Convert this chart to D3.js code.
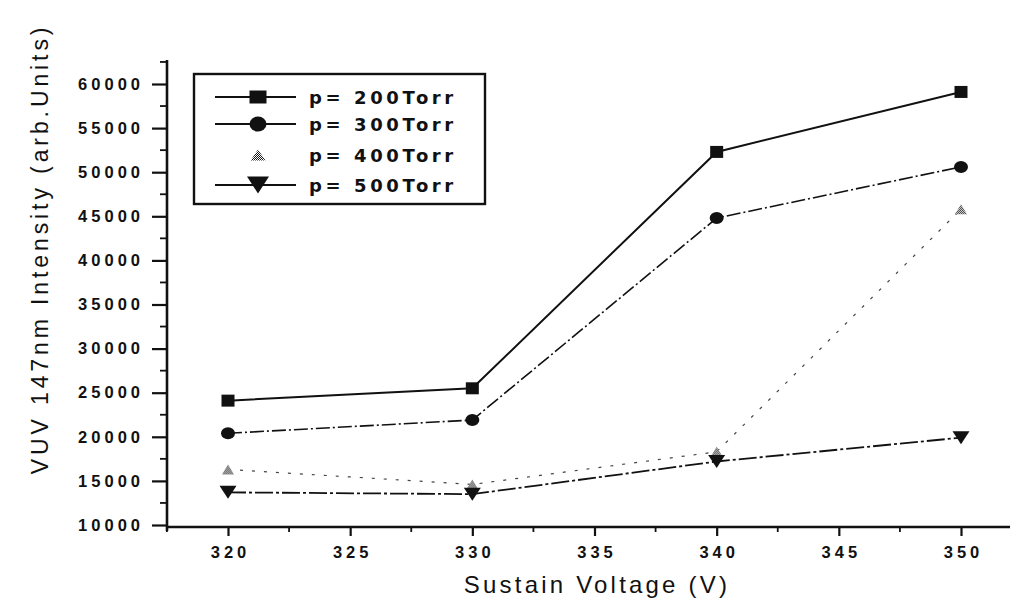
<!DOCTYPE html>
<html>
<head>
<meta charset="utf-8">
<script src="https://cdn.jsdelivr.net/npm/d3@7"></script>
<style>
  html, body { margin: 0; padding: 0; background: #fff; }
  svg { display: block; }
  text { font-family: "Liberation Sans", Arial, sans-serif; fill: #111; }
</style>
</head>
<body>
<svg id="chart" width="1020" height="600"></svg>
<script>
// Sustain voltage (V) on the x axis
const voltages = [320, 330, 340, 350];

// VUV 147 nm intensity for each gas pressure
const p200 = [24100, 25500, 52300, 59100];
const p300 = [20400, 21900, 44800, 50600];
const p400 = [16300, 14600, 18300, 45800];
const p500 = [13700, 13500, 17200, 19900];

const seriesNames = ["p= 200Torr", "p= 300Torr", "p= 400Torr", "p= 500Torr"];

const xTicks = [320, 325, 330, 335, 340, 345, 350];
const yTicks = [10000, 15000, 20000, 25000, 30000, 35000, 40000, 45000, 50000, 55000, 60000];

const svg = d3.select("#chart");

const x = d3.scaleLinear().domain([320, 350]).range([228, 961]);
const y = d3.scaleLinear().domain([10000, 60000]).range([525, 84]);

// checkered fill for the 400 Torr triangles
const defs = svg.append("defs");
const pat = defs.append("pattern").attr("id", "checker")
  .attr("width", 2).attr("height", 2).attr("patternUnits", "userSpaceOnUse");
pat.append("rect").attr("width", 2).attr("height", 2).attr("fill", "#fff");
pat.append("rect").attr("width", 1).attr("height", 1).attr("fill", "#1a1a1a");
pat.append("rect").attr("x", 1).attr("y", 1).attr("width", 1).attr("height", 1).attr("fill", "#1a1a1a");

// marker outlines of a given width and height, centred on the point
function markerPath(shape, w, h) {
  const p = d3.path();
  const hw = w / 2, hh = h / 2;
  if (shape === "square") {
    p.rect(-hw, -hh, w, h);
  } else if (shape === "triUp") {
    p.moveTo(0, -hh); p.lineTo(hw, hh); p.lineTo(-hw, hh); p.closePath();
  } else if (shape === "triDown") {
    p.moveTo(-hw, -hh); p.lineTo(hw, -hh); p.lineTo(0, hh); p.closePath();
  } else {
    return `M${-hw},0A${hw},${hh} 0 1,0 ${hw},0A${hw},${hh} 0 1,0 ${-hw},0Z`;
  }
  return p.toString();
}

const styles = [
  { dash: null, width: 2, color: "#111", shape: "square", mw: 13, mh: 12, lw: 17, lh: 13, fill: "#111" },
  { dash: "14,3,2,3", width: 1.6, color: "#111", shape: "ellipse", mw: 14, mh: 12, lw: 17, lh: 15, fill: "#111" },
  { dash: "3,9", width: 1.2, color: "#444", shape: "triUp", mw: 12, mh: 10, lw: 15, lh: 11, fill: "url(#checker)" },
  { dash: "18,3,3,3", width: 1.8, color: "#111", shape: "triDown", mw: 17, mh: 13, lw: 22, lh: 17, fill: "#111" }
];
const allSeries = [p200, p300, p400, p500];

// x axis
const xMinor = d3.range(317.5, 352, 2.5).filter(v => !xTicks.includes(v));
const xAxis = d3.axisBottom(x).tickValues(xTicks).tickSize(9).tickPadding(10).tickFormat(d3.format("d"));
const gx = svg.append("g").attr("transform", "translate(0,527)").call(xAxis);
gx.select(".domain").remove();
gx.append("line").attr("x1", 166).attr("x2", 1010).attr("stroke", "#111").attr("stroke-width", 2.6);
gx.selectAll(".tick line").attr("stroke", "#111").attr("stroke-width", 2.2);
gx.selectAll(".tick text").attr("font-size", 16.5).attr("font-weight", "bold")
  .attr("letter-spacing", "4px").attr("dx", "2px").attr("fill", "#111");
gx.selectAll(".minor").data(xMinor).join("line").attr("class", "minor")
  .attr("x1", d => x(d)).attr("x2", d => x(d)).attr("y1", 0).attr("y2", 5)
  .attr("stroke", "#111").attr("stroke-width", 1.8);

// y axis
const yMinor = d3.range(12500, 63000, 5000);
const yAxis = d3.axisLeft(y).tickValues(yTicks).tickSize(15).tickPadding(8).tickFormat(d3.format("d"));
const gy = svg.append("g").attr("transform", "translate(167,0)").call(yAxis);
gy.select(".domain").remove();
gy.append("line").attr("y1", 60).attr("y2", 531).attr("stroke", "#111").attr("stroke-width", 2.6);
gy.selectAll(".tick line").attr("stroke", "#111").attr("stroke-width", 2.2);
gy.selectAll(".tick text").attr("font-size", 16.5).attr("font-weight", "bold")
  .attr("letter-spacing", "4px").attr("fill", "#111");
gy.selectAll(".minor").data(yMinor).join("line").attr("class", "minor")
  .attr("y1", d => y(d)).attr("y2", d => y(d)).attr("x1", 0).attr("x2", -7)
  .attr("stroke", "#111").attr("stroke-width", 1.8);

// axis titles
svg.append("text").attr("x", 597).attr("y", 593).attr("text-anchor", "middle")
  .attr("font-size", 24).attr("letter-spacing", "3.2px").text("Sustain Voltage (V)");
svg.append("text").attr("transform", "translate(48,249) rotate(-90)").attr("text-anchor", "middle")
  .attr("font-size", 23).attr("letter-spacing", "3.9px").text("VUV 147nm Intensity (arb.Units)");

// series lines and markers
const line = d3.line().x((d, i) => x(voltages[i])).y(d => y(d));
allSeries.forEach((vals, k) => {
  const s = styles[k];
  svg.append("path").datum(vals).attr("d", line)
    .attr("fill", "none").attr("stroke", s.color).attr("stroke-width", s.width)
    .attr("stroke-dasharray", s.dash);
  svg.selectAll(".m" + k).data(vals).join("path").attr("class", "m" + k)
    .attr("d", markerPath(s.shape, s.mw, s.mh))
    .attr("transform", (d, i) => `translate(${x(voltages[i])},${y(d)})`)
    .attr("fill", s.fill);
});

// legend
const lg = svg.append("g");
lg.append("rect").attr("x", 194).attr("y", 74).attr("width", 291).attr("height", 130)
  .attr("fill", "#fff").attr("stroke", "#111").attr("stroke-width", 2.4);
const rows = [97, 124, 155, 185];
seriesNames.forEach((name, k) => {
  const s = styles[k];
  const ry = rows[k];
  if (k !== 2) {
    lg.append("line").attr("x1", 215).attr("x2", 296).attr("y1", ry).attr("y2", ry)
      .attr("stroke", "#111").attr("stroke-width", 1.8);
  }
  lg.append("path").attr("d", markerPath(s.shape, s.lw, s.lh))
    .attr("transform", `translate(258,${ry})`).attr("fill", s.fill);
  lg.append("text").attr("x", 309).attr("y", ry + 7).attr("font-size", 18)
    .style("font-family", "'DejaVu Sans', sans-serif")
    .attr("font-weight", "bold").attr("letter-spacing", "3.6px").text(name);
});
</script>
</body>
</html>
